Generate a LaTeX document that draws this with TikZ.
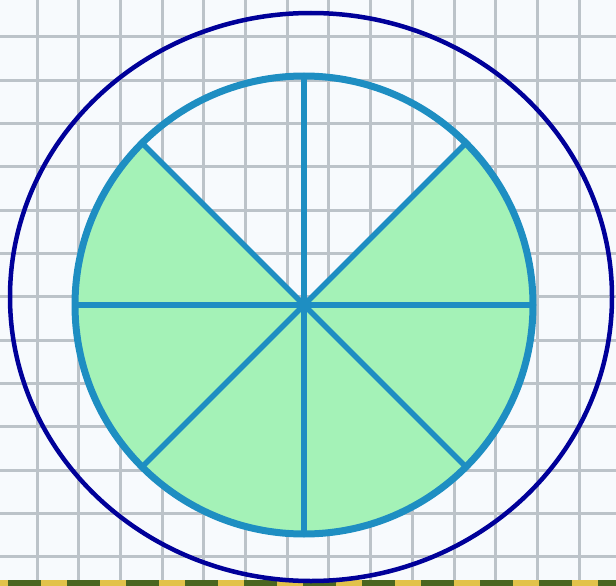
\documentclass[tikz,border=0pt]{standalone}
\definecolor{bgc}{HTML}{F7FAFD}
\definecolor{gridc}{HTML}{BCC3C9}
\definecolor{outerc}{HTML}{000099}
\definecolor{piec}{HTML}{1E8EC2}
\definecolor{fillg}{HTML}{A4F2B7}
\definecolor{olive}{HTML}{4A6620}
\definecolor{stripy}{HTML}{E2C24A}
\begin{document}
\begin{tikzpicture}[x=1pt,y=-1pt,
  gridline/.style={gridc, line width=3},
  spoke/.style={piec, line width=5.5},
  rim/.style={piec, line width=7},
  outerring/.style={outerc, line width=4.5}]
\useasboundingbox (0,0) rectangle (616,586);
\fill[bgc] (0,0) rectangle (616,586);
\foreach \i in {0,...,13} \draw[gridline] ({37+41.7*\i},0) -- ({37+41.7*\i},580);
\foreach \j in {0,...,12} \draw[gridline] (0,{37+43.3*\j}) -- (616,{37+43.3*\j});
% bottom strip
\fill[stripy] (0,580) rectangle (616,586);
\foreach \k in {0,...,10} \fill[olive] ({8+59*\k},580) rectangle ({41+59*\k},586);
% outer ring
\coordinate (C) at (311,297);
\draw[outerring] (C) ellipse [x radius=301, y radius=284];
% pie
\coordinate (O) at (304,305);
\fill[fillg] (O) -- ++(-45:229) arc[start angle=-45, end angle=225, radius=229] -- cycle;
\foreach \a in {0,45,...,315} \draw[spoke] (O) -- ++(\a:229);
\draw[rim] (O) circle[radius=229];
\fill[piec] (O) circle[radius=5.5];
\end{tikzpicture}
\end{document}
